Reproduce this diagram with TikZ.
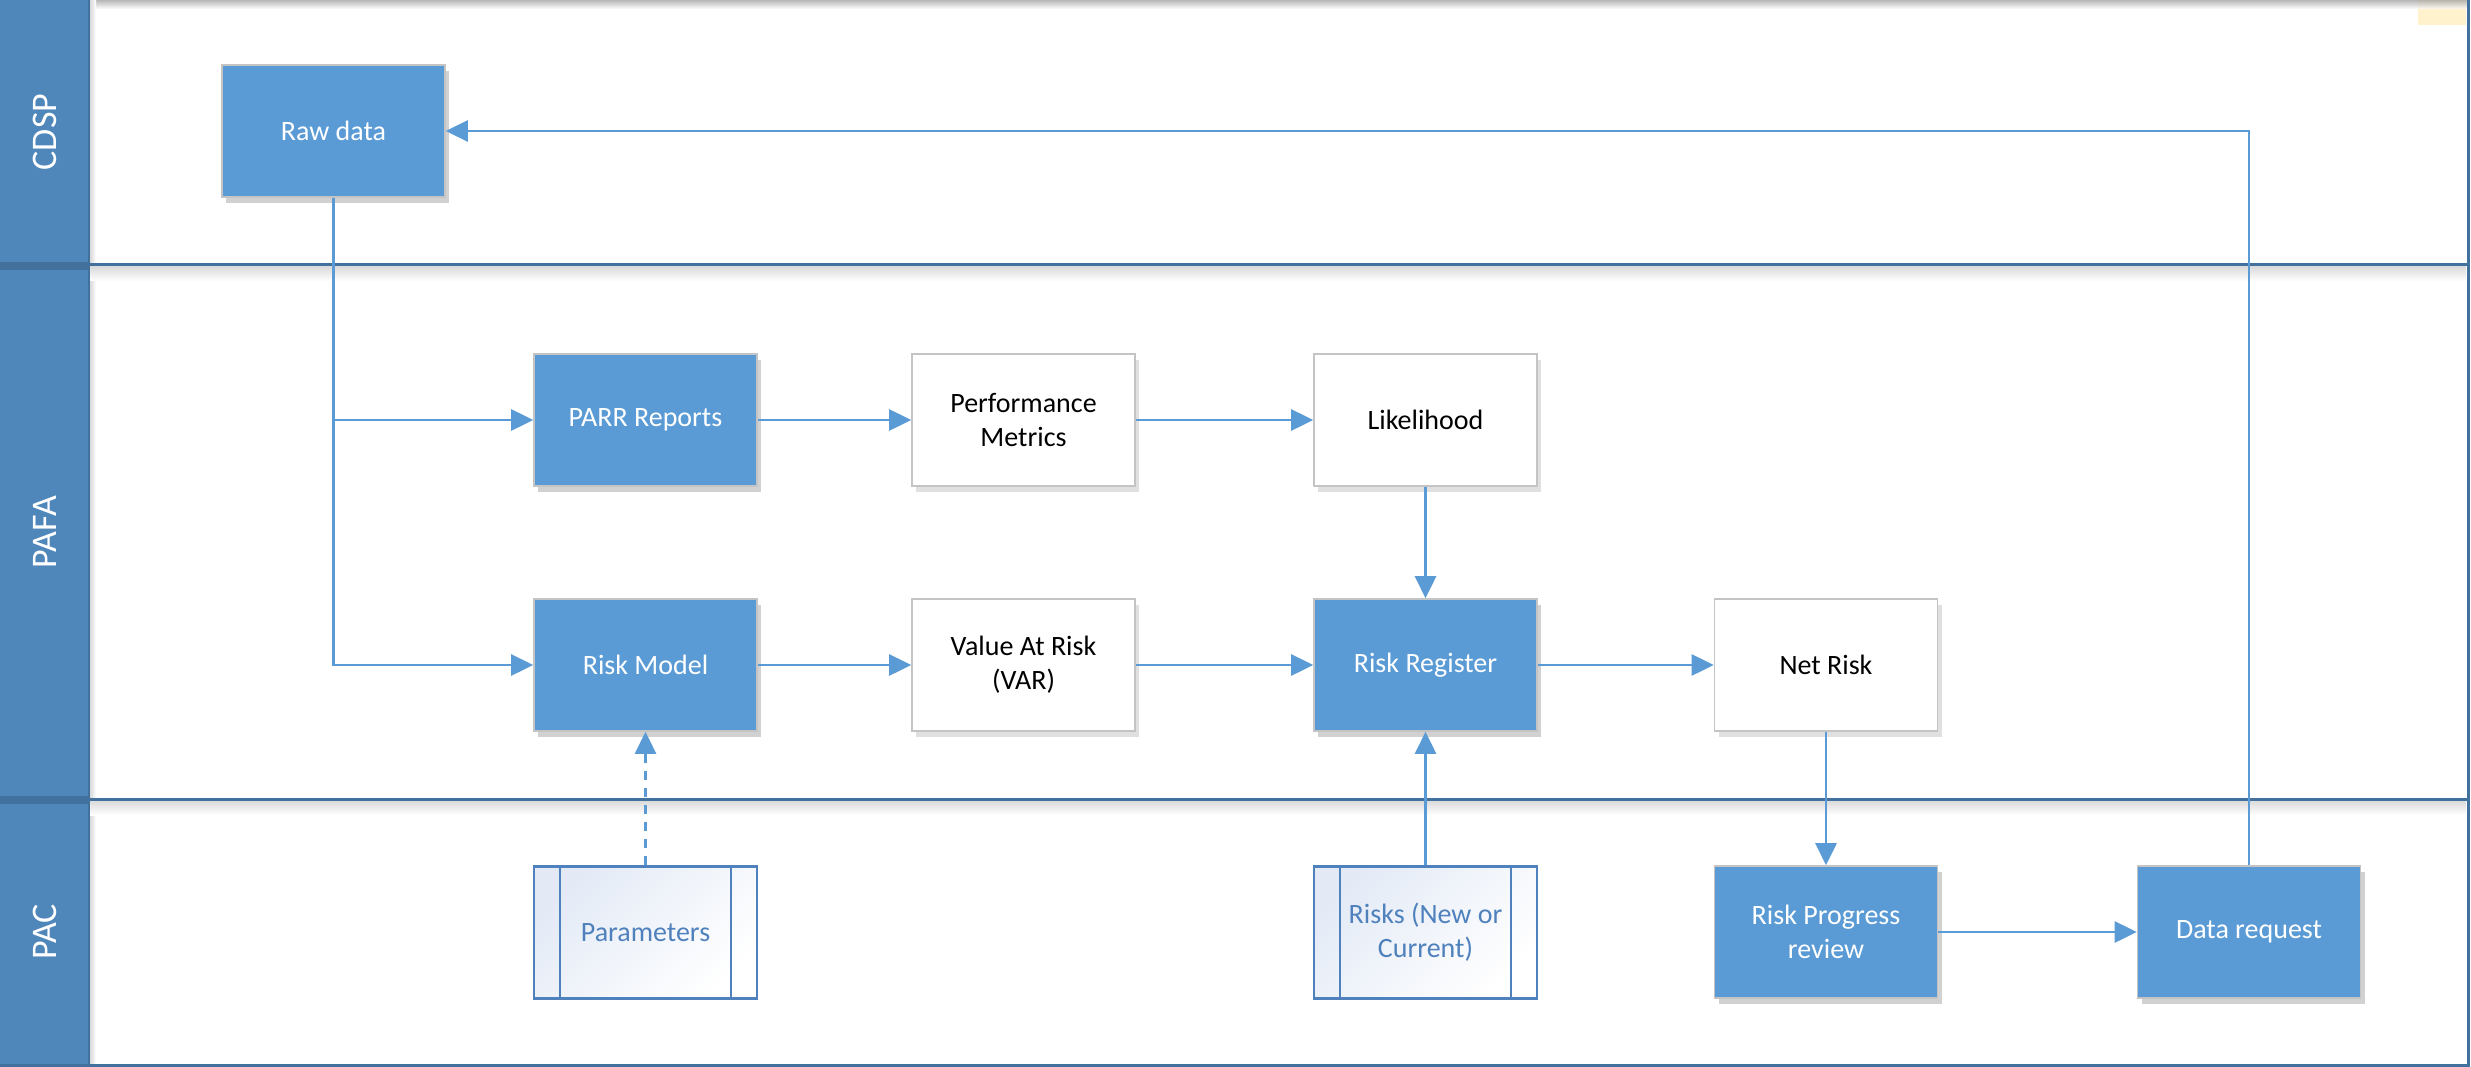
\documentclass[tikz,border=0pt]{standalone}
\usepackage{fontspec}
\setmainfont{Carlito}
\usetikzlibrary{arrows.meta,shadows}
\definecolor{hdr}{HTML}{4F87BB}
\definecolor{hdrline}{HTML}{41719C}
\definecolor{boxblue}{HTML}{5B9BD5}
\definecolor{boxborder}{HTML}{C4C4C4}
\definecolor{conn}{HTML}{5B9BD5}
\definecolor{ppline}{HTML}{4F81BD}
\definecolor{ppfill}{HTML}{E3EAF6}
\definecolor{notey}{HTML}{FFF2CC}
\begin{document}
\begin{tikzpicture}[x=1pt,y=-1pt,
  basebox/.style={rectangle, minimum width=223pt, minimum height=132pt, inner sep=0pt,
    align=center, font=\fontsize{28}{34}\selectfont},
  bluebox/.style={basebox, draw=boxborder, line width=1.6pt, fill=boxblue, text=white,
    drop shadow={shadow xshift=4pt, shadow yshift=-6pt, fill=black, opacity=0.18}},
  whitebox/.style={basebox, draw=boxborder, line width=1.6pt, fill=white, text=black,
    drop shadow={shadow xshift=4pt, shadow yshift=-6pt, fill=black, opacity=0.12}},
  ppbox/.style={basebox, draw=ppline, line width=2.2pt, left color=ppfill, right color=white,
    shading angle=45, text=ppline},
  conn/.style={draw=conn, line width=2.7pt, -{Triangle[length=22pt,width=21pt]}},
  dconn/.style={conn, dash pattern=on 9pt off 8pt},
  lanelbl/.style={rotate=90, text=white, font=\fontsize{36}{40}\selectfont},
  lanesep/.style={draw=hdrline, line width=3pt}]
\useasboundingbox[fill=white] (0,0) rectangle (2471,1067);

% top shade and note
\fill[notey] (2418,0) rectangle (2466,25);
\shade[top color=black!35, bottom color=white, opacity=0.8] (0,0) rectangle (2468,9);

% lane header band
\fill[hdr] (0,0) rectangle (89,1065);
\shade[left color=black!15, right color=white] (90,0) rectangle (96,1065);
\shade[top color=black!15, bottom color=white] (90,266) rectangle (2466,281);
\shade[top color=black!15, bottom color=white] (90,800) rectangle (2466,815);
\fill[hdrline] (0,262) rectangle (89,270);
\fill[hdrline] (0,796) rectangle (89,804);

\node[lanelbl] (l1) at (44.5,132) {CDSP};
\node[lanelbl] (l2) at (44.5,532) {PAFA};
\node[lanelbl] (l3) at (44.5,932) {PAC};

\draw[lanesep] (0,265) -- (2468,265);
\draw[lanesep] (0,799) -- (2468,799);
\draw[lanesep] (0,1065) -- (2468,1065);
\draw[lanesep] (2468,0) -- (2468,1066.5);
\draw[draw=hdrline, line width=2pt] (89,0) -- (89,1065);

% nodes
\node[bluebox] (raw) at (333.5,131) {Raw data};
\node[bluebox] (parr) at (645.5,420) {PARR Reports};
\node[whitebox] (pm) at (1023.5,420) {Performance\\Metrics};
\node[whitebox] (lik) at (1425.5,420) {Likelihood};
\node[bluebox] (rm) at (645.5,665) {Risk Model};
\node[whitebox] (var) at (1023.5,665) {Value At Risk\\(VAR)};
\node[bluebox] (rr) at (1425.5,665) {Risk Register};
\node[whitebox] (net) at (1826,665) {Net Risk};
\node[ppbox] (par) at (645.5,932.5) {Parameters};
\node[ppbox] (risks) at (1425.5,932.5) {Risks (New or\\Current)};
\node[bluebox] (rpr) at (1826,932) {Risk Progress\\review};
\node[bluebox] (dr) at (2249,932) {Data request};

\foreach \n in {par,risks}{
  \draw[ppline, line width=2pt] ([xshift=27pt]\n.north west) -- ([xshift=27pt]\n.south west);
  \draw[ppline, line width=2pt] ([xshift=-27pt]\n.north east) -- ([xshift=-27pt]\n.south east);
}

% connectors
\draw[conn] (raw.south) |- (parr.west);
\draw[conn] (raw.south) |- (rm.west);
\draw[conn] (parr) -- (pm);
\draw[conn] (pm) -- (lik);
\draw[conn] (rm) -- (var);
\draw[conn] (var) -- (rr);
\draw[conn] (rr) -- (net);
\draw[conn] (lik) -- (rr);
\draw[conn] (risks) -- (rr);
\draw[dconn] (par) -- (rm);
\draw[conn] (net) -- (rpr);
\draw[conn] (rpr) -- (dr);
\draw[conn] (dr.north) |- (raw.east);
\end{tikzpicture}
\end{document}
